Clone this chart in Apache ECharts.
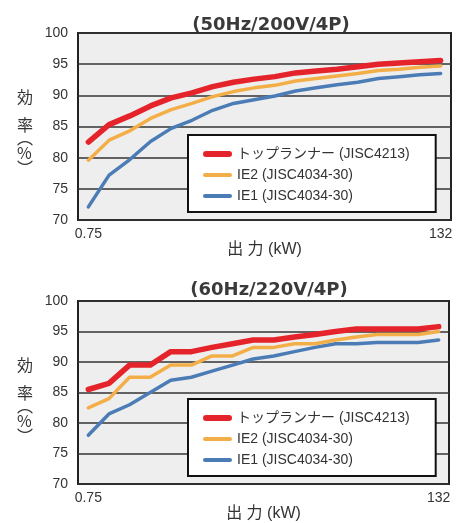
<!DOCTYPE html>
<html>
<head>
<meta charset="utf-8">
<script src="https://cdn.jsdelivr.net/npm/echarts@6/dist/echarts.min.js"></script>
<style>
html,body{margin:0;padding:0;background:#fff;}
#c{width:462px;height:523px;}
</style>
</head>
<body>
<div id="c"></div>
<script>
// ---- data ----
var categories = ['0.75','1.5','2.2','3.7','5.5','7.5','11','15','18.5','22','30','37','45','55','75','90','110','132'];
var seriesNames = ['トップランナー (JISC4213)', 'IE2 (JISC4034-30)', 'IE1 (JISC4034-30)'];
var titles = ['(50Hz/200V/4P)', '(60Hz/220V/4P)'];
var xAxisName = '出 力 (kW)';
var yTicks = [70, 75, 80, 85, 90, 95, 100];

// 50Hz / 200V / 4P
var top50 = [82.5, 85.3, 86.7, 88.3, 89.6, 90.4, 91.4, 92.1, 92.6, 93.0, 93.6, 93.9, 94.2, 94.6, 95.0, 95.2, 95.4, 95.6];
var ie2_50 = [79.6, 82.8, 84.3, 86.3, 87.7, 88.7, 89.8, 90.6, 91.2, 91.6, 92.3, 92.7, 93.1, 93.5, 94.0, 94.2, 94.5, 94.7];
var ie1_50 = [72.1, 77.2, 79.7, 82.6, 84.7, 86.0, 87.6, 88.7, 89.3, 89.9, 90.7, 91.2, 91.7, 92.1, 92.7, 93.0, 93.3, 93.5];

// 60Hz / 220V / 4P
var top60 = [85.5, 86.5, 89.5, 89.5, 91.7, 91.7, 92.4, 93.0, 93.6, 93.6, 94.1, 94.5, 95.0, 95.4, 95.4, 95.4, 95.4, 95.8];
var ie2_60 = [82.5, 84.0, 87.5, 87.5, 89.5, 89.5, 91.0, 91.0, 92.4, 92.4, 93.0, 93.0, 93.6, 94.1, 94.5, 94.5, 94.5, 95.0];
var ie1_60 = [78.0, 81.5, 83.0, 85.0, 87.0, 87.5, 88.5, 89.5, 90.5, 91.0, 91.7, 92.4, 93.0, 93.0, 93.2, 93.2, 93.2, 93.6];

// ---- styles ----
var colors = ['#e5232a', '#f4ae47', '#4b7cb6'];
var widths = [5.5, 3.5, 3.5];
var iconH = [6, 4, 4];
var zs = [5, 4, 3];
var FONT = '"Liberation Sans", "Noto Sans CJK JP", sans-serif';
var grids = [
  {left: 78, top: 33, width: 373, height: 187},
  {left: 78, top: 301, width: 371, height: 188}
];
var titlePos = [{x: 266, y: 11}, {x: 264, y: 276}];
var legendPos = [{x: 188, y: 135}, {x: 188, y: 399}];
var yNamePos = [0, 268];

var chart = echarts.init(document.getElementById('c'), null, {renderer: 'canvas'});
var datasets = [[top50, ie2_50, ie1_50], [top60, ie2_60, ie1_60]];

function iconPath(h) {
  var r = h / 2;
  return 'path://M' + r + ',0 L' + (29 - r) + ',0 A' + r + ',' + r + ' 0 0 1 ' + (29 - r) + ',' + h +
    ' L' + r + ',' + h + ' A' + r + ',' + r + ' 0 0 1 ' + r + ',0 Z';
}

var option = {
  backgroundColor: '#fff',
  animation: false,
  title: [], grid: [], xAxis: [], yAxis: [], legend: [], series: [], graphic: []
};

for (var g = 0; g < 2; g++) {
  option.title.push({
    text: titles[g], left: titlePos[g].x, top: titlePos[g].y, textAlign: 'center',
    textStyle: {fontFamily: '"DejaVu Sans", sans-serif', fontSize: 18, fontWeight: 'bold', color: '#3a3a3a'}
  });
  option.grid.push(Object.assign({
    show: true, backgroundColor: '#eeeeee', borderColor: '#222', borderWidth: 2, containLabel: false
  }, grids[g]));
  option.xAxis.push({
    type: 'category', gridIndex: g, data: categories, boundaryGap: true,
    axisLine: {show: false}, axisTick: {show: false}, splitLine: {show: false},
    axisLabel: {
      interval: function (i) { return i === 0 || i === categories.length - 1; },
      margin: 7, fontSize: 14, color: '#333', fontFamily: FONT
    },
    name: xAxisName, nameLocation: 'middle', nameGap: 14,
    nameTextStyle: {fontSize: 16, color: '#333', fontFamily: FONT, verticalAlign: 'top'}
  });
  option.yAxis.push({
    type: 'value', gridIndex: g, min: yTicks[0], max: yTicks[yTicks.length - 1], interval: 5,
    axisLine: {show: false}, axisTick: {show: false},
    axisLabel: {margin: 10, fontSize: 14, color: '#333', fontFamily: FONT},
    splitLine: {show: true, lineStyle: {color: '#333', width: 1.5}}
  });
  option.legend.push({
    orient: 'vertical', left: legendPos[g].x, top: legendPos[g].y,
    data: seriesNames.map(function (n, i) { return {name: n, icon: iconPath(iconH[i])}; }),
    backgroundColor: '#fff', borderColor: '#111', borderWidth: 2,
    padding: [12, 26, 9, 15], itemGap: 7, itemWidth: 29, itemHeight: 14,
    textStyle: {fontSize: 14, color: '#333', fontFamily: FONT},
    selectedMode: false, z: 10
  });
  for (var s = 0; s < 3; s++) {
    option.series.push({
      type: 'line', name: seriesNames[s], xAxisIndex: g, yAxisIndex: g,
      data: datasets[g][s], symbol: 'none', z: zs[s],
      lineStyle: {color: colors[s], width: widths[s], cap: 'round', join: 'round'},
      itemStyle: {color: colors[s]}
    });
  }
  option.graphic.push({
    type: 'text', left: 17, top: 83 + yNamePos[g], z: 10,
    style: {text: '効\n率', font: '16px "Noto Sans CJK JP", sans-serif', fill: '#333', lineHeight: 28}
  });
  option.graphic.push({
    type: 'text', left: 17, top: 130 + yNamePos[g], z: 10,
    style: {text: '︵\n%\n︶', font: '16px "Noto Sans CJK JP", sans-serif', fill: '#333', lineHeight: 15, align: 'left'}
  });
}

chart.setOption(option);
</script>
</body>
</html>
